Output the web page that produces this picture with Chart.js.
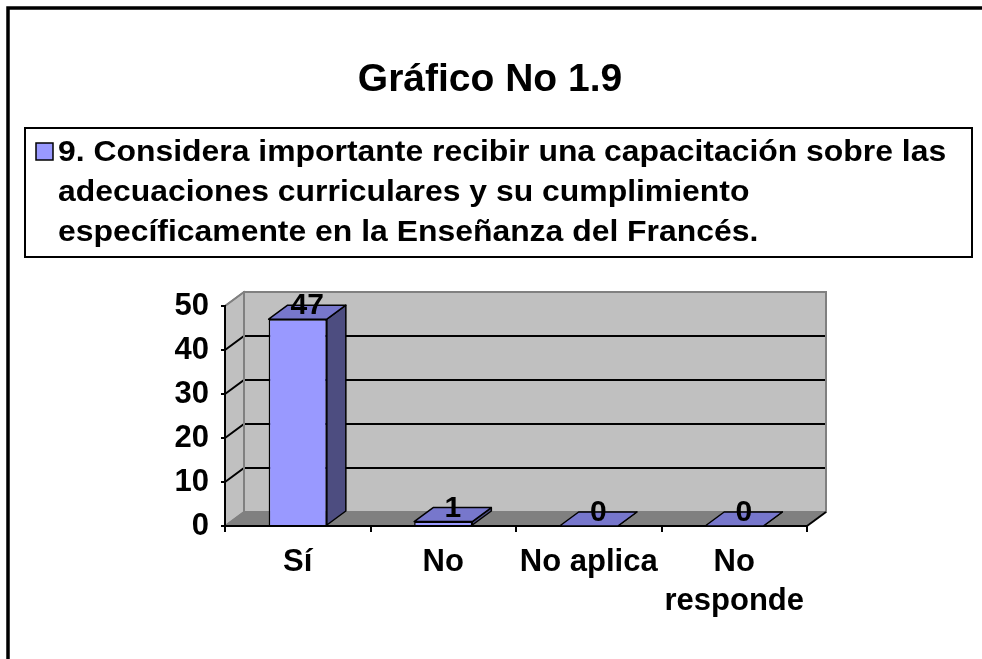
<!DOCTYPE html>
<html>
<head>
<meta charset="utf-8">
<script src="https://cdn.jsdelivr.net/npm/chart.js@4.4.0/dist/chart.umd.min.js"></script>
<style>
  html, body { margin: 0; padding: 0; background: #fff; overflow: hidden; }
</style>
</head>
<body>
<canvas id="grafico" width="982" height="659"></canvas>
<script>
// datos del gráfico
const categorias = ['Sí', 'No', 'No aplica', ['No', 'responde']];
const respuestas = [47, 1, 0, 0];
const titulo = 'Gráfico No 1.9';
const lineasLeyenda = [
    '9. Considera importante recibir una capacitación sobre las',
    'adecuaciones curriculares y su cumplimiento',
    'específicamente en la Enseñanza del Francés.'
];
const ticksY = [0, 10, 20, 30, 40, 50];

// profundidad del efecto 3D
const DX = 19, DY = 14;
const FUENTE = 'Arial, "Liberation Sans", sans-serif';

function poligono(ctx, pts, relleno, trazo, ancho) {
    ctx.beginPath();
    ctx.moveTo(pts[0][0], pts[0][1]);
    for (let i = 1; i < pts.length; i++) ctx.lineTo(pts[i][0], pts[i][1]);
    ctx.closePath();
    if (relleno) { ctx.fillStyle = relleno; ctx.fill(); }
    if (trazo) { ctx.strokeStyle = trazo; ctx.lineWidth = ancho || 1; ctx.stroke(); }
}

// texto un poco estirado a lo ancho, como en la imagen original
function textoEstirado(ctx, txt, x, y, escala) {
    ctx.save();
    ctx.translate(x, y);
    ctx.scale(escala, 1);
    ctx.fillText(txt, 0, 0);
    ctx.restore();
}

const fondo3d = {
    id: 'fondo3d',
    beforeDraw(chart) {
        const ctx = chart.ctx;
        const a = chart.chartArea;
        const y = chart.scales.y;
        ctx.save();
        ctx.fillStyle = '#fff';
        ctx.fillRect(0, 0, chart.width, chart.height);

        // marco exterior
        ctx.strokeStyle = '#000';
        ctx.lineWidth = 3.5;
        ctx.strokeRect(8, 8, 1100, 1100);

        // título
        ctx.fillStyle = '#000';
        ctx.font = 'bold 39px ' + FUENTE;
        ctx.textAlign = 'center';
        ctx.textBaseline = 'alphabetic';
        ctx.fillText(titulo, 490, 91);

        // leyenda
        ctx.lineWidth = 2;
        ctx.strokeRect(25, 128, 947, 129);
        ctx.fillStyle = '#9999ff';
        ctx.fillRect(36, 143, 17, 17);
        ctx.lineWidth = 1.5;
        ctx.strokeRect(36, 143, 17, 17);
        ctx.fillStyle = '#000';
        ctx.font = 'bold 29px ' + FUENTE;
        ctx.textAlign = 'left';
        lineasLeyenda.forEach((l, i) => textoEstirado(ctx, l, 58, 161 + i * 40, 1.1));

        // paredes y piso
        const izq = [[a.left, a.bottom], [a.left, a.top], [a.left + DX, a.top - DY], [a.left + DX, a.bottom - DY]];
        poligono(ctx, izq, '#c0c0c0', '#808080', 1.5);
        ctx.fillStyle = '#c0c0c0';
        ctx.fillRect(a.left + DX, a.top - DY, a.right - a.left, a.bottom - a.top);
        const piso = [[a.left, a.bottom], [a.right, a.bottom], [a.right + DX, a.bottom - DY], [a.left + DX, a.bottom - DY]];
        poligono(ctx, piso, '#808080', null);

        // líneas de división en pared trasera y lateral
        ctx.strokeStyle = '#000';
        ctx.lineWidth = 2;
        ticksY.forEach(v => {
            if (v === 0 || v === 50) return;
            const py = y.getPixelForValue(v);
            ctx.beginPath();
            ctx.moveTo(a.left, py);
            ctx.lineTo(a.left + DX, py - DY);
            ctx.lineTo(a.right + DX, py - DY);
            ctx.stroke();
        });
        ctx.strokeStyle = '#808080';
        ctx.lineWidth = 2;
        ctx.strokeRect(a.left + DX, a.top - DY, a.right - a.left, a.bottom - a.top);
        ctx.beginPath();
        ctx.moveTo(a.left, a.top);
        ctx.lineTo(a.left + DX, a.top - DY);
        ctx.moveTo(a.left, a.bottom);
        ctx.lineTo(a.left + DX, a.bottom - DY);
        ctx.stroke();

        // borde frontal derecho del piso
        ctx.strokeStyle = '#000';
        ctx.beginPath();
        ctx.moveTo(a.right, a.bottom);
        ctx.lineTo(a.right + DX, a.bottom - DY);
        ctx.stroke();
        ctx.restore();
    }
};

const barras3d = {
    id: 'barras3d',
    afterDatasetsDraw(chart) {
        const ctx = chart.ctx;
        const meta = chart.getDatasetMeta(0);
        ctx.save();
        ctx.lineJoin = 'round';
        meta.data.forEach((bar, i) => {
            const x0 = bar.x - bar.width / 2, x1 = bar.x + bar.width / 2;
            const top = bar.y, base = bar.base;
            // cara lateral
            poligono(ctx, [[x1, top], [x1 + DX, top - DY], [x1 + DX, base - DY], [x1, base]], '#4d4d80', '#000', 1.5);
            // cara superior
            poligono(ctx, [[x0, top], [x1, top], [x1 + DX, top - DY], [x0 + DX, top - DY]], '#7777cc', '#000', 1.5);
            // etiqueta de valor
            ctx.fillStyle = '#000';
            ctx.font = 'bold 30px ' + FUENTE;
            ctx.textAlign = 'center';
            ctx.textBaseline = 'middle';
            ctx.fillText(String(respuestas[i]), bar.x + DX / 2, top - DY / 2 - 6);
        });
        ctx.restore();
    }
};

const ctx = document.getElementById('grafico').getContext('2d');
const grafico = new Chart(ctx, {
    type: 'bar',
    data: {
        labels: categorias,
        datasets: [{
            label: lineasLeyenda.join(' '),
            data: respuestas,
            backgroundColor: '#9999ff',
            borderColor: '#000',
            borderWidth: 1.5,
            categoryPercentage: 1,
            barPercentage: 0.4
        }]
    },
    options: {
        responsive: false,
        animation: false,
        events: [],
        layout: { padding: { top: 306, right: 175, left: 0, bottom: 0 } },
        plugins: {
            legend: { display: false },
            title: { display: false },
            tooltip: { enabled: false }
        },
        scales: {
            x: {
                grid: { drawOnChartArea: false, drawTicks: true, tickLength: 6, color: '#000', lineWidth: 2, offset: true },
                border: { display: true, color: '#000', width: 2 },
                ticks: {
                    color: '#000',
                    padding: 11,
                    maxRotation: 0,
                    autoSkip: false,
                    font: { family: FUENTE, size: 31, weight: 'bold', lineHeight: 1.26 }
                },
                afterFit(s) { s.height = 133; }
            },
            y: {
                min: 0,
                max: 50,
                ticks: {
                    stepSize: 10,
                    color: '#000',
                    padding: 12,
                    font: { family: FUENTE, size: 31, weight: 'bold' }
                },
                grid: { drawOnChartArea: false, drawTicks: true, tickLength: 4, color: '#000', lineWidth: 2 },
                border: { display: true, color: '#000', width: 2 },
                afterFit(s) { s.width = 225; }
            }
        }
    },
    plugins: [fondo3d, barras3d]
});
</script>
</body>
</html>
